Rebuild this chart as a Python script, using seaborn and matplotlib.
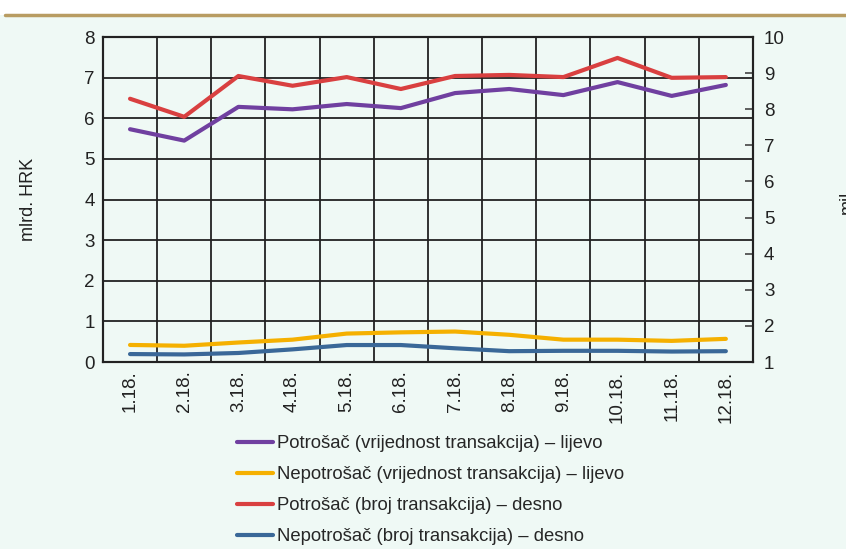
import numpy as np
import pandas as pd
import matplotlib
matplotlib.use("Agg")
import matplotlib.pyplot as plt
import seaborn as sns
from matplotlib.lines import Line2D

# months (x axis)
months = ["1.18.", "2.18.", "3.18.", "4.18.", "5.18.", "6.18.",
          "7.18.", "8.18.", "9.18.", "10.18.", "11.18.", "12.18."]

# left axis, mlrd. HRK
potrosac_vrij = [5.73, 5.45, 6.28, 6.22, 6.35, 6.25, 6.62, 6.72, 6.57, 6.89, 6.55, 6.82]
nepotrosac_vrij = [0.42, 0.40, 0.48, 0.55, 0.70, 0.73, 0.75, 0.67, 0.55, 0.55, 0.52, 0.57]

# right axis, mil. transakcija
potrosac_broj = [8.29, 7.79, 8.92, 8.65, 8.89, 8.56, 8.92, 8.95, 8.89, 9.42, 8.87, 8.89]
nepotrosac_broj = [1.22, 1.21, 1.25, 1.35, 1.47, 1.47, 1.38, 1.30, 1.31, 1.31, 1.29, 1.30]

labels = ["Potrošač (vrijednost transakcija) – lijevo",
          "Nepotrošač (vrijednost transakcija) – lijevo",
          "Potrošač (broj transakcija) – desno",
          "Nepotrošač (broj transakcija) – desno"]
colors = ["#7040a0", "#f5b000", "#d94040", "#3a6898"]

bg = "#eff9f5"
sns.set_theme(style="white")
plt.rcParams["font.family"] = ["Liberation Sans Narrow", "Liberation Sans", "DejaVu Sans"]

df = pd.DataFrame({
    "x": np.arange(len(months)),
    "pv": potrosac_vrij, "nv": nepotrosac_vrij,
    "pb": potrosac_broj, "nb": nepotrosac_broj,
})

fig = plt.figure(figsize=(8.46, 5.49), dpi=100)
fig.patch.set_facecolor(bg)
ax = fig.add_axes([0.1217, 0.3406, 0.7683, 0.592])
ax.set_facecolor(bg)
ax2 = ax.twinx()

lw = 3
sns.lineplot(data=df, x="x", y="pv", ax=ax, color=colors[0], lw=lw)
sns.lineplot(data=df, x="x", y="nv", ax=ax, color=colors[1], lw=lw)
sns.lineplot(data=df, x="x", y="pb", ax=ax2, color=colors[2], lw=lw)
sns.lineplot(data=df, x="x", y="nb", ax=ax2, color=colors[3], lw=lw)

ax.set_xlim(-0.5, len(months) - 0.5)
ax.set_ylim(0, 8)
ax2.set_ylim(1, 10)
ax.set_yticks(range(0, 9))
ax2.set_yticks(range(1, 11))
ax.set_xticks(range(len(months)))
ax.set_xticklabels(months, rotation=90)
ax.set_xticks(np.arange(0.5, len(months) - 1, 1), minor=True)

ax.grid(True, axis="y", which="major", color="#222222", lw=1.3)
ax.grid(True, axis="x", which="minor", color="#222222", lw=1.3)
ax.grid(False, axis="x", which="major")
ax2.grid(False)

ax.tick_params(axis="both", which="both", length=0, labelsize=13.5, colors="#222222", pad=6)
ax2.tick_params(axis="y", direction="in", length=6, width=1.2, color="#444444",
                labelsize=13.5, labelcolor="#222222", pad=8)

for a in (ax, ax2):
    for s in a.spines.values():
        s.set_color("#222222")
        s.set_linewidth(1.5)
        s.set_visible(True)

ax.set_xlabel("")
ax.set_ylabel("mlrd. HRK", fontsize=13, color="#222222", labelpad=34)
ax2.set_ylabel("")
fig.text(0.992, 0.61, "mil.", rotation=90, fontsize=13, color="#222222",
         ha="left", va="bottom")

# brown rule at the top
fig.add_artist(Line2D([0.006, 1.0], [1 - 15 / 549, 1 - 15 / 549], color="#b89c62", lw=2.5))
fig.patches.append(plt.Rectangle((0, 1 - 15 / 549), 1, 15 / 549, transform=fig.transFigure,
                                 facecolor="white", edgecolor="none", zorder=-1))

handles = [Line2D([], [], color=c, lw=3) for c in colors]
fig.legend(handles, labels, loc="upper left", bbox_to_anchor=(0.28, 0.207),
           frameon=False, fontsize=13.3, handlelength=1.95, handletextpad=0.2,
           labelspacing=0.76, borderaxespad=0, borderpad=0)

fig.savefig("out.png", dpi=100, facecolor=fig.get_facecolor())
